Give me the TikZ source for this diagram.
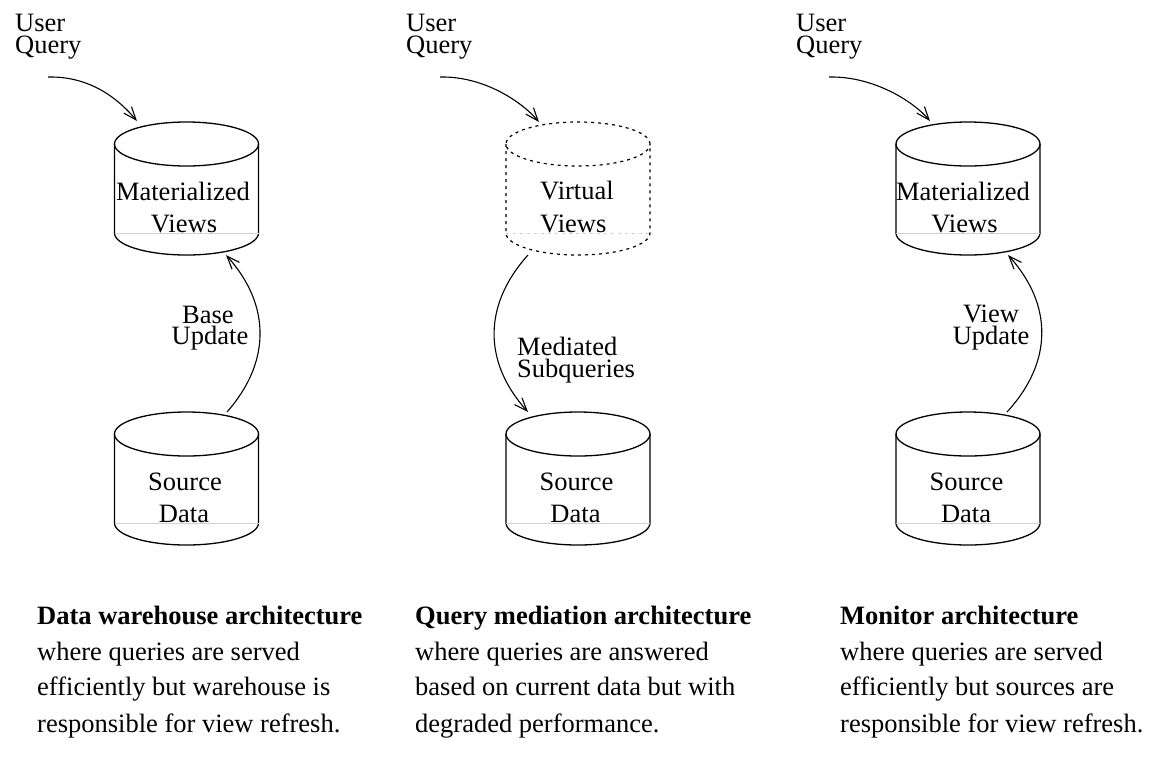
\documentclass[tikz,border=0pt]{standalone}
\usepackage{fontspec}
\setmainfont{Liberation Serif}
\usetikzlibrary{arrows.meta}
\newcommand\dbcyl[4]{%
  \draw[#3] (#1,#2) ellipse [x radius=72pt, y radius=22pt];
  \draw[#3] (#1-72,#2) -- (#1-72,#2+89) arc[start angle=180,end angle=360,x radius=72pt,y radius=22pt] -- (#1+72,#2);
  \draw[hidden,#4] (#1-72,#2+89) -- (#1+72,#2+89);
}
\begin{document}
\begin{tikzpicture}[x=1pt,y=-1pt,
  outline/.style={line width=1.3pt},
  virt/.style={line width=1.2pt, dash pattern=on 3pt off 4pt},
  hidden/.style={line width=1pt, draw=black!18},
  hiddash/.style={dash pattern=on 3pt off 4pt},
  conn/.style={line width=1.1pt, -{Straight Barb[length=13pt,width=10pt,line width=1.1pt]}},
  txt/.style={inner sep=0pt, font=\fontsize{26.5}{33}\selectfont, anchor=base},
  txtl/.style={txt, anchor=base west},
  ]
\useasboundingbox (0,0) rectangle (1151,756);

% ---------- cylinders ----------
\dbcyl{186.5}{144}{outline}{}
\dbcyl{186.5}{434}{outline}{}
\dbcyl{578}{144}{virt}{hiddash}
\dbcyl{578}{434}{outline}{}
\dbcyl{968}{144}{outline}{}
\dbcyl{968}{434}{outline}{}

% ---------- left column ----------
\node[txtl] (uq1a) at (15,31) {User};
\node[txtl] (uq1b) at (15,53) {Query};
\node[txt] (mv1a) at (183,200) {Materialized};
\node[txt] (mv1b) at (184,232) {Views};
\node[txt] (sd1a) at (185,490) {Source};
\node[txt] (sd1b) at (184,522) {Data};
\node[txt] (bu1a) at (208,323) {Base};
\node[txt] (bu1b) at (210,344) {Update};
\node[txtl] (c1a) at (37,624) {\bfseries Data warehouse architecture};
\node[txtl] (c1b) at (37,660) {where queries are served};
\node[txtl] (c1c) at (37,695) {efficiently but warehouse is};
\node[txtl] (c1d) at (37,732) {responsible for view refresh.};

\coordinate (q1s) at (48,77);
\coordinate (q1e) at (137,121);
\draw[conn] (q1s) .. controls (93,76) and (121,102) .. (q1e);
\coordinate (u1s) at (227,412);
\coordinate (u1e) at (226,255);
\draw[conn] (u1s) .. controls (271,362) and (271,305) .. (u1e);

% ---------- middle column ----------
\node[txtl] (uq2a) at (406,31) {User};
\node[txtl] (uq2b) at (406,53) {Query};
\node[txtl] (vv2a) at (540,199) {Virtual};
\node[txtl] (vv2b) at (540,232) {Views};
\node[txt] (sd2a) at (576.5,490) {Source};
\node[txt] (sd2b) at (575.5,522) {Data};
\node[txtl] (ms2a) at (517,355) {Mediated};
\node[txtl] (ms2b) at (517,377) {Subqueries};
\node[txtl] (c2a) at (415,624) {\bfseries Query mediation architecture};
\node[txtl] (c2b) at (415,660) {where queries are answered};
\node[txtl] (c2c) at (415,695) {based on current data but with};
\node[txtl] (c2d) at (415,732) {degraded performance.};

\coordinate (q2s) at (440,77);
\coordinate (q2e) at (539,122);
\draw[conn] (q2s) .. controls (485,76) and (523,103) .. (q2e);
\coordinate (m2s) at (528,255);
\coordinate (m2e) at (528,412);
\draw[conn] (m2s) .. controls (483,305) and (483,362) .. (m2e);

% ---------- right column ----------
\node[txtl] (uq3a) at (796,31) {User};
\node[txtl] (uq3b) at (796,53) {Query};
\node[txt] (mv3a) at (963,200) {Materialized};
\node[txt] (mv3b) at (964.5,232) {Views};
\node[txt] (sd3a) at (966.5,490) {Source};
\node[txt] (sd3b) at (966,522) {Data};
\node[txt] (vu3a) at (991,322) {View};
\node[txt] (vu3b) at (991,344) {Update};
\node[txtl] (c3a) at (840,624) {\bfseries Monitor architecture};
\node[txtl] (c3b) at (840,660) {where queries are served};
\node[txtl] (c3c) at (840,695) {efficiently but sources are};
\node[txtl] (c3d) at (840,732) {responsible for view refresh.};

\coordinate (q3s) at (829,77);
\coordinate (q3e) at (930,121);
\draw[conn] (q3s) .. controls (874,76) and (914,102) .. (q3e);
\coordinate (v3s) at (1007,412);
\coordinate (v3e) at (1008,255);
\draw[conn] (v3s) .. controls (1053,362) and (1053,305) .. (v3e);
\end{tikzpicture}
\end{document}
